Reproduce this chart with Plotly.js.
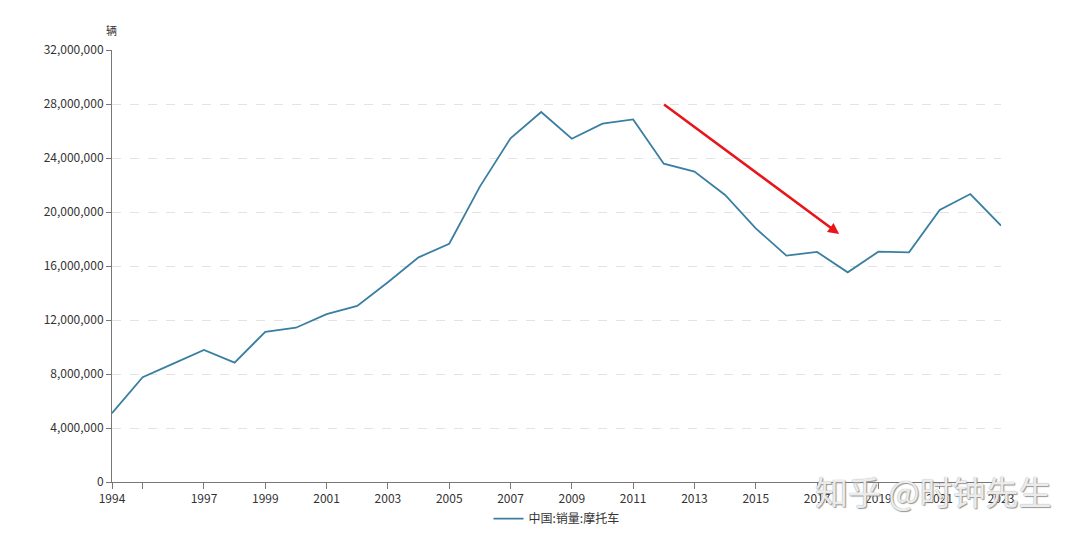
<!DOCTYPE html>
<html>
<head>
<meta charset="utf-8">
<script src="https://cdn.plot.ly/plotly-3.0.1.min.js"></script>
<style>
  html, body { margin: 0; padding: 0; background: #fff; }
  #chart { width: 1080px; height: 536px; }
</style>
</head>
<body>
<div id="chart"></div>
<script>
// 中国摩托车年销量（辆）
const years = [1994, 1995, 1996, 1997, 1998, 1999, 2000, 2001, 2002, 2003,
               2004, 2005, 2006, 2007, 2008, 2009, 2010, 2011, 2012, 2013,
               2014, 2015, 2016, 2017, 2018, 2019, 2020, 2021, 2022, 2023];
const sales = [5100000, 7760000, 8770000, 9780000, 8840000, 11130000, 11430000, 12440000, 13040000, 14800000,
               16640000, 17650000, 21880000, 25460000, 27410000, 25430000, 26540000, 26860000, 23580000, 22990000,
               21260000, 18790000, 16770000, 17040000, 15530000, 17060000, 17010000, 20150000, 21330000, 18990000];

const seriesName = '中国:销量:摩托车';
const yUnit = '辆';

const xTickVals = [1994, 1995, 1997, 1999, 2001, 2003, 2005, 2007, 2009, 2011, 2013, 2015, 2017, 2019, 2021, 2023];
const xTickText = ['1994', '', '1997', '1999', '2001', '2003', '2005', '2007', '2009', '2011', '2013', '2015', '2017', '2019', '2021', '2023'];
const yTickVals = [0, 4000000, 8000000, 12000000, 16000000, 20000000, 24000000, 28000000, 32000000];

// 下行趋势箭头（数据坐标）
const trendFrom = { x: 2011.96, y: 28050000 };
const trendTo = { x: 2017.72, y: 18370000 };

const watermark = '知乎 @时钟先生';

const fontFamily = '"Noto Sans CJK SC", "Noto Sans", sans-serif';

const trace = {
  x: years,
  y: sales,
  type: 'scatter',
  mode: 'lines',
  name: seriesName,
  line: { color: '#3a7fa1', width: 1.8 },
  hoverinfo: 'x+y'
};

const layout = {
  width: 1080,
  height: 536,
  margin: { l: 112, r: 79, t: 50, b: 54, autoexpand: false },
  paper_bgcolor: '#ffffff',
  plot_bgcolor: '#ffffff',
  font: { family: fontFamily, size: 12, color: '#333333' },
  showlegend: true,
  legend: {
    orientation: 'h',
    x: 0.5,
    xanchor: 'center',
    y: -0.085,
    yanchor: 'middle',
    font: { family: fontFamily, size: 12, color: '#333333' },
    itemwidth: 30
  },
  xaxis: {
    range: [1994, 2023],
    tickmode: 'array',
    tickvals: xTickVals,
    ticktext: xTickText,
    ticks: 'outside',
    ticklen: 6,
    tickcolor: '#777777',
    showline: true,
    linecolor: '#777777',
    linewidth: 1,
    showgrid: false,
    zeroline: false,
    tickfont: { family: fontFamily, size: 12, color: '#333333' },
    fixedrange: true
  },
  yaxis: {
    range: [0, 32000000],
    tickmode: 'array',
    tickvals: yTickVals,
    tickformat: ',d',
    ticks: 'outside',
    ticklen: 5,
    tickcolor: '#777777',
    showline: true,
    linecolor: '#777777',
    linewidth: 1,
    showgrid: true,
    gridcolor: '#e3e3e3',
    griddash: 'dash',
    gridwidth: 1,
    zeroline: false,
    tickfont: { family: fontFamily, size: 12, color: '#333333' },
    fixedrange: true
  },
  annotations: [
    {
      text: yUnit,
      xref: 'paper', yref: 'paper',
      x: 0, y: 1,
      xanchor: 'center', yanchor: 'bottom',
      xshift: -1, yshift: 10,
      showarrow: false,
      font: { family: fontFamily, size: 11, color: '#333333' }
    },
    {
      x: trendTo.x, y: trendTo.y,
      ax: trendFrom.x, ay: trendFrom.y,
      xref: 'x', yref: 'y', axref: 'x', ayref: 'y',
      text: '',
      showarrow: true,
      arrowhead: 2,
      arrowsize: 0.85,
      arrowwidth: 2.6,
      arrowcolor: '#e8161b'
    },
    {
      text: watermark,
      xref: 'paper', yref: 'paper',
      x: 1.06, y: 0,
      xanchor: 'right', yanchor: 'middle',
      yshift: -9,
      showarrow: false,
      font: {
        family: fontFamily, size: 33, color: 'rgba(255,255,255,0.85)',
        shadow: '0px 0px 1px #777, 1px 1px 1px #888'
      }
    }
  ]
};

Plotly.newPlot('chart', [trace], layout, { displayModeBar: false, staticPlot: true });
</script>
</body>
</html>
